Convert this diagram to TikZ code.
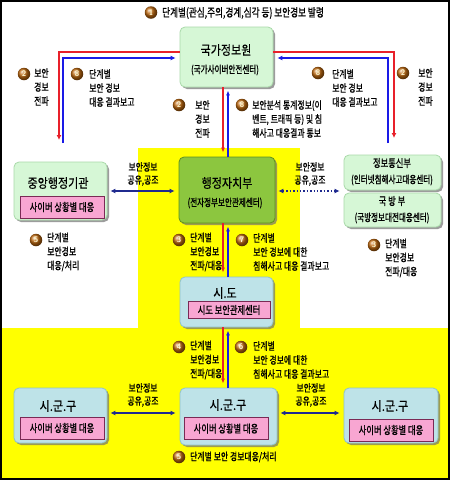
\documentclass[tikz,border=0pt]{standalone}
\usepackage{fontspec}
\newfontfamily\kr{Noto Sans CJK KR}[FakeStretch=0.75,FakeBold=0.8]
\newfontfamily\krt{Noto Sans CJK KR}[FakeStretch=0.85,FakeBold=0.4]
\newfontfamily\krs{Noto Sans CJK KR}[FakeStretch=0.72,FakeBold=0.8]
\usetikzlibrary{shadows,arrows.meta}
\definecolor{ylw}{HTML}{FFFF00}
\definecolor{lgreen}{HTML}{D6F7D6}
\definecolor{lgreenE}{HTML}{A9D9A9}
\definecolor{mgreen}{HTML}{8CC63F}
\definecolor{mgreenE}{HTML}{5E8F1E}
\definecolor{lblue}{HTML}{BEE3E8}
\definecolor{lblueE}{HTML}{8FC3CB}
\definecolor{pinkf}{HTML}{F8A6D2}
\definecolor{pinke}{HTML}{7A2A55}
\definecolor{redl}{HTML}{E8202A}
\definecolor{bluel}{HTML}{1A1AE6}
\definecolor{navy}{HTML}{1F2A8F}
\definecolor{badgec}{HTML}{C06A10}
\begin{document}
\begin{tikzpicture}[x=1pt,y=-1pt,
 box/.style={rounded corners=5pt, line width=0.8pt, inner sep=0,
   drop shadow={shadow xshift=2pt, shadow yshift=-2pt, fill=black!55, opacity=0.7}},
 gbox/.style={box, fill=lgreen, draw=lgreenE},
 mbox/.style={box, fill=mgreen, draw=mgreenE},
 bbox/.style={box, fill=lblue, draw=lblueE},
 pbox/.style={fill=pinkf, draw=pinke, line width=0.7pt, inner sep=0, minimum width=84, minimum height=22, font=\kr\fontsize{11}{13}\selectfont},
 ttl/.style={inner sep=0, font=\krt\fontsize{13}{15}\selectfont},
 sub/.style={inner sep=0, font=\krs\fontsize{10.5}{12}\selectfont},
 lbl/.style={inner sep=0, anchor=west, align=left, font=\kr\fontsize{10.5}{14}\selectfont},
 two/.style={inner sep=0, align=center, font=\kr\fontsize{10.5}{13}\selectfont},
 bdg/.style={circle, inner sep=0, minimum size=12.5, ball color=badgec, text=yellow!15, font=\sffamily\bfseries\fontsize{8}{9}\selectfont},
 redln/.style={draw=redl, line width=1.8pt, -{Latex[length=5pt,width=5pt]}},
 bluln/.style={draw=bluel, line width=1.8pt, -{Latex[length=5pt,width=5pt]}, shorten >=4pt},
 redc/.style={draw=redl, line width=1.2pt, -{Latex[length=5pt,width=4pt]}, shorten >=4pt},
 bluc/.style={draw=bluel, line width=1.2pt, -{Latex[length=5pt,width=4pt]}, shorten >=3pt},
 dbl/.style={draw=navy, line width=1.4pt, {Latex[length=5pt,width=5pt]}-{Latex[length=5pt,width=5pt]}, shorten <=3pt, shorten >=4pt},
 dbld/.style={dbl, dotted}]
\useasboundingbox (0,0) rectangle (450,480);
% backgrounds
\fill[white] (0,0) rectangle (450,480);
\fill[ylw] (138,148) rectangle (300,330);
\fill[ylw] (0,328) rectangle (450,480);
\draw[line width=2pt] (1,1) rectangle (449,479);

% level coordinates
\coordinate (y52) at (0,52);
\coordinate (y58) at (0,58);
\coordinate (y191) at (0,191);
\coordinate (y413) at (0,413);
\coordinate (x223) at (223,0);
\coordinate (x228) at (228,0);
\coordinate (lr) at (59,140);
\coordinate (lb) at (63,143);
\coordinate (rr) at (394,138);
\coordinate (rb) at (388,143);

% boxes
\node[gbox, minimum width=93, minimum height=60] (nis) at (226.5,57) {};
\node[ttl] (nist) at (226,50) {국가정보원};
\node[sub] (niss) at (225,70) {(국가사이버안전센터)};

\node[mbox, minimum width=96, minimum height=66] (mois) at (227,190) {};
\node[ttl] (moist) at (227,183) {행정자치부};
\node[sub] (moiss) at (225,203) {(전자정부보안관제센터)};

\node[gbox, minimum width=93, minimum height=58] (cgov) at (60.5,191) {};
\node[ttl] (cgovt) at (58,183) {중앙행정기관};
\node[pbox] (cgovp) at (62,207) {사이버 상황별 대응};

\node[gbox, minimum width=97, minimum height=35] (icom) at (392.5,172.5) {};
\node[sub, font=\kr\fontsize{11}{12}\selectfont] (icomt) at (392,163) {정보통신부};
\node[sub] (icoms) at (392,180) {(인터넷침해사고대응센터)};
\node[gbox, minimum width=97, minimum height=34] (mnd) at (392.5,210) {};
\node[sub, font=\kr\fontsize{11}{12}\selectfont] (mndt) at (392,201) {국 방 부};
\node[sub] (mnds) at (392,218) {(국방정보대전대응센터)};

\node[bbox, minimum width=93, minimum height=50] (sido) at (226.5,302) {};
\node[ttl] (sidot) at (225,293) {시.도};
\node[pbox, minimum width=82, minimum height=17] (sidop) at (229,310) {시도 보안관제센터};

\node[bbox, minimum width=97, minimum height=57] (csgg) at (228.5,416.5) {};
\node[ttl] (csggt) at (228,405) {시.군.구};
\node[pbox] (csggp) at (226,428.5) {사이버 상황별 대응};

\node[bbox, minimum width=93, minimum height=55] (lsgg) at (60.5,415.5) {};
\node[ttl] (lsggt) at (58,406) {시.군.구};
\node[pbox] (lsggp) at (62,428) {사이버 상황별 대응};

\node[bbox, minimum width=94, minimum height=55] (rsgg) at (391,415.5) {};
\node[ttl] (rsggt) at (390,406) {시.군.구};
\node[pbox] (rsggp) at (391,430) {사이버 상황별 대응};

% top
\node[bdg] (b1) at (151,12.5) {1};
\node[lbl, font=\kr\fontsize{11.5}{14}\selectfont] (t1) at (162,13) {단계별(관심,주의,경계,심각 등) 보안경보 발령};

% surrounding arrows
\draw[redln] (nis.west |- y52) -| (lr);
\draw[bluln] (lb) |- (nis.west |- y58);
\draw[redln] (nis.east |- y52) -| (rr);
\draw[bluln] (rb) |- (nis.east |- y58);

% vertical center arrows
\draw[redc] (nis.south -| x223) -- (mois.north -| x223);
\draw[bluc] (mois.north -| x228) -- (nis.south -| x228);
\draw[redc] (mois.south -| x223) -- (sido.north -| x223);
\draw[bluc] (sido.north -| x228) -- (mois.south -| x228);
\draw[redc] (sido.south -| x223) -- (csgg.north -| x223);
\draw[bluc] (csgg.north -| x228) -- (sido.south -| x228);

% horizontal exchange arrows
\draw[dbl] (cgov.east |- y191) -- (mois.west |- y191);
\draw[dbld] (mois.east |- y191) -- (icom.west |- y191);
\draw[dbl] (lsgg.east |- y413) -- (csgg.west |- y413);
\draw[dbl] (csgg.east |- y413) -- (rsgg.west |- y413);
\node[two] (e1) at (143,174) {보안정보\\공유,공조};
\node[two] (e2) at (310,174) {보안정보\\공유,공조};
\node[two] (e3) at (143,395) {보안정보\\공유,공조};
\node[two] (e4) at (311,395) {보안정보\\공유,공조};

% labels
\node[bdg] (bl2) at (24,74) {2};
\node[lbl] at (34,87) {보안\\경보\\전파};
\node[bdg] (bl8) at (77,74) {8};
\node[lbl] at (89,88) {단계별\\보안 경보\\대응 결과보고};
\node[bdg] (bc2) at (179,105) {2};
\node[lbl] at (195,119) {보안\\경보\\전파};
\node[bdg] (bc8) at (242,105) {8};
\node[lbl] at (252,119) {보안분석 통계정보(이\\벤트, 트래픽 등) 및 침\\해사고 대응결과 통보};
\node[bdg] (br8) at (318,73) {8};
\node[lbl] at (332,88) {단계별\\보안 경보\\대응 결과보고};
\node[bdg] (br2) at (403,73) {2};
\node[lbl] at (418,87) {보안\\경보\\전파};

\node[bdg] (bl5) at (36,240) {5};
\node[lbl] at (47,252) {단계별\\보안경보\\대응/처리};
\node[bdg] (bc3) at (179,240) {3};
\node[lbl] at (190,252) {단계별\\보안경보\\전파/대응};
\node[bdg] (bc7) at (242,240) {7};
\node[lbl] at (253,252) {단계별\\보안 경보에 대한\\침해사고 대응 결과보고};
\node[bdg] (br3) at (374,245) {3};
\node[lbl] at (385,258) {단계별\\보안경보\\전파/대응};

\node[bdg] (bc4) at (179,347) {4};
\node[lbl] at (190,360) {단계별\\보안경보\\전파/대응};
\node[bdg] (bc6) at (241,347) {6};
\node[lbl] at (253,360) {단계별\\보안 경보에 대한\\침해사고 대응 결과보고};
\node[bdg] (bc5) at (179,457) {5};
\node[lbl] at (190,457) {단계별 보안 경보대응/처리};
\end{tikzpicture}
\end{document}
